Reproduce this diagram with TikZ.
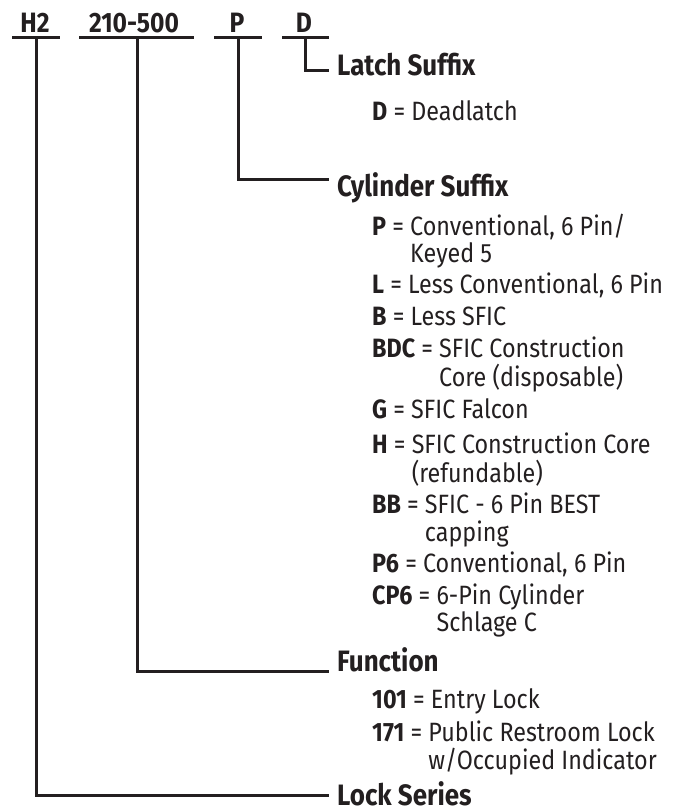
\documentclass[tikz,border=0pt]{standalone}
\usepackage{fontspec}
\setmainfont{Fira Sans}[FakeStretch=0.88]
\definecolor{ink}{RGB}{35,31,32}
\newcommand\keyentry[2]{\textbf{#1} = \begin{tabular}[t]{@{}l@{}}#2\end{tabular}}
\tikzset{
  lbl/.style={text=ink, inner sep=0pt, anchor=base west, font=\fontsize{26.5}{25}\selectfont},
  head/.style={text=ink, inner sep=0pt, anchor=base west, font=\fontsize{29.5}{30}\selectfont\bfseries},
  code/.style={text=ink, inner sep=0pt, anchor=base, font=\fontsize{28}{30}\selectfont\bfseries},
  wire/.style={draw=ink, line width=3pt, line join=miter}
}
\begin{document}
\begin{tikzpicture}[x=1pt,y=-1pt]
\useasboundingbox (0,0) rectangle (678,812);
% header codes
\node[code] (cH) at (35,32) {H2};
\node[code] (cF) at (134,32) {210-500};
\node[code] (cP) at (237,32) {P};
\node[code] (cD) at (304,32) {D};
% underlines
\coordinate (uHl) at (12,37);  \coordinate (uHr) at (60,37);  \coordinate (uH) at (36,37);
\coordinate (uFl) at (79,37);  \coordinate (uFr) at (194,37); \coordinate (uF) at (137,37);
\coordinate (uPl) at (214,37); \coordinate (uPr) at (262,37); \coordinate (uP) at (238,37);
\coordinate (uDl) at (282,37); \coordinate (uDr) at (329,37); \coordinate (uD) at (305,37);
\draw[wire] (uHl) -- (uHr);
\draw[wire] (uFl) -- (uFr);
\draw[wire] (uPl) -- (uPr);
\draw[wire] (uDl) -- (uDr);
% headings
\node[head] (hLatch) at (337,75) {Latch Suffix};
\node[head] (hCyl) at (337,196) {Cylinder Suffix};
\node[head] (hFun) at (337,671) {Function};
\node[head] (hLock) at (337,805) {Lock Series};
\coordinate (eLatch) at (329,70);
\coordinate (eCyl) at (329,179);
\coordinate (eFun) at (329,671);
\coordinate (eLock) at (329,795);
\draw[wire] (uD) |- (eLatch);
\draw[wire] (uP) |- (eCyl);
\draw[wire] (uF) |- (eFun);
\draw[wire] (uH) |- (eLock);
% entries
\node[lbl] (d1) at (372,120) {\keyentry{D}{Deadlatch}};
\node[lbl] (c1) at (372,235) {\keyentry{P}{Conventional, 6 Pin/\\Keyed 5}};
\node[lbl] (c2) at (372,293) {\keyentry{L}{Less Conventional, 6 Pin}};
\node[lbl] (c3) at (372,325) {\keyentry{B}{Less SFIC}};
\node[lbl] (c4) at (372,357) {\keyentry{BDC}{SFIC Construction\\Core (disposable)}};
\node[lbl] (c5) at (372,418) {\keyentry{G}{SFIC Falcon}};
\node[lbl] (c6) at (372,453) {\keyentry{H}{SFIC Construction Core\\(refundable)}};
\node[lbl] (c7) at (372,513) {\keyentry{BB}{SFIC - 6 Pin BEST\\capping}};
\node[lbl] (c8) at (372,572) {\keyentry{P6}{Conventional, 6 Pin}};
\node[lbl] (c9) at (372,604) {\keyentry{CP6}{6-Pin Cylinder\\Schlage C}};
\node[lbl] (f1) at (372,708) {\keyentry{101}{Entry Lock}};
\node[lbl] (f2) at (372,741) {\keyentry{171}{Public Restroom Lock\\w/Occupied Indicator}};
\end{tikzpicture}
\end{document}
